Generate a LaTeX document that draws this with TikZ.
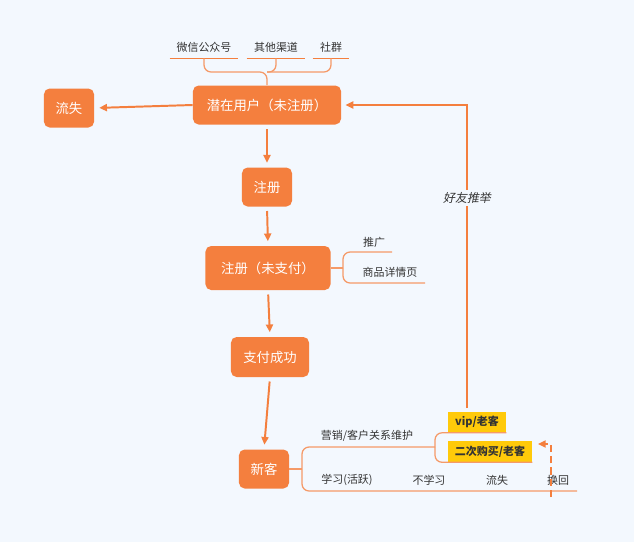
\documentclass[tikz,border=0pt]{standalone}
\usepackage{fontspec}
\setmainfont{Noto Sans CJK SC}
\newfontfamily\slantfont{Noto Sans CJK SC}[FakeSlant=0.2]
\usetikzlibrary{arrows.meta,positioning,calc}
\definecolor{flow}{HTML}{F47F3E}
\definecolor{twig}{HTML}{F59A68}
\definecolor{tag}{HTML}{FFCA0A}
\definecolor{canvas}{HTML}{F3F8FE}
\definecolor{ink}{HTML}{333333}

\begin{document}
\begin{tikzpicture}[x=0.025cm, y=-0.025cm,
  stage/.style={fill=flow, rounded corners=4pt, text=white, inner sep=0pt,
    font=\fontsize{9.5}{11}\selectfont, minimum height=0.975cm},
  leaf/.style={text=ink, inner sep=0pt, font=\fontsize{7.8}{9}\selectfont},
  badge/.style={fill=tag, text=ink, inner sep=0pt, minimum height=0.525cm,
    font=\bfseries\fontsize{7.8}{9}\selectfont},
  flowline/.style={draw=flow, line width=1.4pt, -{Triangle[length=5.5pt,width=5pt]}},
  branch/.style={draw=twig, line width=0.9pt, rounded corners=5pt},
]
\fill[canvas] (0,0) rectangle (634,542);
\useasboundingbox (0,0) rectangle (634,542);

% --- main stages ---
\node[stage, minimum width=3.7cm] (lead) at (267,105) {潜在用户（未注册）};
\node[stage, minimum width=1.25cm] (lost) at (69,108) {流失};
\node[stage, minimum width=1.25cm] (signup) at (267,187) {注册};
\node[stage, minimum width=3.125cm, minimum height=1.1cm] (unpaid) at (268,268) {注册（未支付）};
\node[stage, minimum width=1.95cm, minimum height=1.0cm] (paid) at (270,357) {支付成功};
\node[stage, minimum width=1.25cm] (newbie) at (264,469) {新客};

\draw[flowline, shorten >=3.5pt] (lead.west) -- (lost.east);
\draw[flowline, shorten <=3pt, shorten >=3.2pt] (lead.south) -- (signup.north);
\draw[flowline, shorten <=3pt, shorten >=3.2pt] (signup.south) -- (unpaid.north);
\draw[flowline, shorten <=3pt, shorten >=3.2pt] (unpaid.south) -- (paid.north);
\draw[flowline, shorten <=3pt, shorten >=3.2pt] (paid.south) -- (newbie.north);

% --- sources ---
\node[leaf, minimum width=1.7cm, minimum height=0.55cm] (wechat) at (204,47) {微信公众号};
\node[leaf, minimum width=1.45cm, minimum height=0.55cm] (other) at (276,47) {其他渠道};
\node[leaf, minimum width=0.9cm, minimum height=0.55cm] (group) at (331,47) {社群};
\foreach \s in {wechat,other,group}
  \draw[draw=flow, line width=0.9pt] (\s.south west) -- (\s.south east);
\coordinate (hub) at (267,72);
\draw[branch] (wechat.south) |- (hub) -- (lead.north);
\draw[branch] (other.south) |- (hub);
\draw[branch] (group.south) |- (hub);

% --- unpaid branch ---
\node[leaf] (promo) at (374,242) {推广};
\node[leaf] (detail) at (390,272) {商品详情页};
\coordinate (unpaidfork) at (343,268);
\coordinate (promoend) at (392,252);
\coordinate (detailend) at (425,283);
\draw[branch] (unpaid.east) -- (unpaidfork);
\draw[branch] (unpaidfork) |- (promoend);
\draw[branch] (unpaidfork) |- (detailend);

% --- new customer branch ---
\node[badge, minimum width=1.45cm] (vip) at (477,422) {vip/老客};
\node[badge, minimum width=2.1cm] (repeat) at (490,451.5) {二次购买/老客};
\node[leaf] (care) at (367,436) {营销/客户关系维护};
\node[leaf] (study) at (347,480) {学习(活跃)};
\node[leaf] (idle) at (429,480) {不学习};
\node[leaf] (churn) at (497,480) {流失};
\node[leaf] (back) at (558,480) {换回};
\coordinate (newfork) at (302,469);
\coordinate (subfork) at (435,447);
\coordinate (studyend) at (380,491);
\coordinate (idleend) at (445,491);
\coordinate (churnend) at (515,491);
\coordinate (backend) at (577,491);
\draw[branch] (newbie.east) -- (newfork);
\draw[branch] (newfork) |- (subfork);
\draw[branch] (subfork) |- (vip.south east);
\draw[branch] (subfork) |- (repeat.south east);
\draw[branch] (newfork) |- (studyend) -- (idleend) -- (churnend) -- (backend);

% --- referral loop ---
\node[leaf, font=\slantfont\fontsize{8.5}{10}\selectfont, fill=canvas, inner sep=1.5pt] (referral) at (467,198) {好友推举};
\draw[draw=flow, line width=1.7pt] (vip.north -| referral) ++(0,-3) -- (referral.south);
\draw[flowline, line width=1.7pt, shorten >=3pt] (referral.north) |- (lead.east);

% --- win back ---
\coordinate (backfrom) at (551,497);
\coordinate (backto) at (538,444);
\draw[flowline, dash pattern=on 5pt off 3pt] (backfrom) |- (backto);
\end{tikzpicture}
\end{document}
